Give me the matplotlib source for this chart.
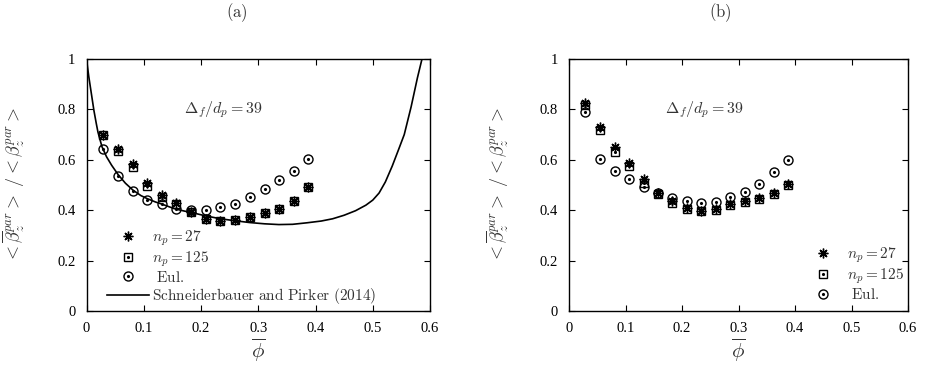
import matplotlib
matplotlib.use("Agg")
import matplotlib.pyplot as plt
from matplotlib.legend_handler import HandlerTuple
from matplotlib.ticker import FuncFormatter

plt.rcParams['mathtext.fontset'] = 'cm'
plt.rcParams['font.family'] = ['Liberation Serif', 'DejaVu Serif']

# ---------------- data ----------------
phi = [0.029, 0.055, 0.081, 0.106, 0.132, 0.157, 0.183, 0.209, 0.234, 0.260,
       0.285, 0.311, 0.336, 0.362, 0.387]

a_np27 = [0.699, 0.644, 0.584, 0.509, 0.461, 0.428, 0.391, 0.366, 0.359, 0.363,
          0.375, 0.388, 0.405, 0.438, 0.491]
a_np125 = [0.697, 0.633, 0.571, 0.498, 0.454, 0.425, 0.391, 0.366, 0.359, 0.363,
           0.375, 0.388, 0.405, 0.438, 0.491]
a_eul = [0.644, 0.534, 0.478, 0.442, 0.424, 0.405, 0.401, 0.401, 0.412, 0.425,
         0.453, 0.486, 0.521, 0.555, 0.605]

b_np27 = [0.825, 0.732, 0.649, 0.587, 0.523, 0.470, 0.435, 0.410, 0.398, 0.404,
          0.424, 0.436, 0.447, 0.468, 0.502]
b_np125 = [0.819, 0.717, 0.630, 0.574, 0.507, 0.464, 0.430, 0.405, 0.395, 0.400,
           0.421, 0.433, 0.444, 0.466, 0.500]
b_eul = [0.788, 0.603, 0.554, 0.525, 0.494, 0.468, 0.450, 0.437, 0.428, 0.434,
         0.454, 0.471, 0.503, 0.551, 0.599]

# Schneiderbauer and Pirker (2014) curve
sp_phi = [0.0, 0.002, 0.004, 0.007, 0.010, 0.013, 0.017, 0.020, 0.027, 0.035,
          0.044, 0.055, 0.068, 0.081, 0.095, 0.106, 0.120, 0.132, 0.145, 0.157,
          0.170, 0.183, 0.209, 0.234, 0.260, 0.285, 0.311, 0.336, 0.360, 0.385,
          0.410, 0.430, 0.450, 0.470, 0.488, 0.500, 0.511, 0.522, 0.534, 0.545,
          0.555, 0.567, 0.578, 0.586]
sp_val = [1.0, 0.965, 0.93, 0.885, 0.84, 0.795, 0.745, 0.71, 0.652, 0.612,
          0.578, 0.542, 0.507, 0.480, 0.458, 0.446, 0.433, 0.424, 0.413, 0.404,
          0.397, 0.391, 0.377, 0.366, 0.358, 0.351, 0.346, 0.343, 0.344, 0.350,
          0.357, 0.366, 0.380, 0.398, 0.420, 0.440, 0.468, 0.512, 0.575, 0.64,
          0.70, 0.81, 0.925, 1.0]

xticks = [0, 0.1, 0.2, 0.3, 0.4, 0.5, 0.6]
yticks = [0, 0.2, 0.4, 0.6, 0.8, 1.0]
annot = r'$\Delta_f/d_p = 39$'
ylabel = r'$<\overline{\beta}_z^{par}>\ /<\beta_z^{par}>$'
xlabel = r'$\overline{\phi}$'
lab27 = r'$n_p = 27$'
lab125 = r'$n_p = 125$'
labeul = r'$\ \mathrm{Eul.}$'
labsp = r'$\mathrm{Schneiderbauer\ and\ Pirker\ (2014)}$'

TXT = '#333333'

fig = plt.figure(figsize=(9.27, 3.69), dpi=100)
axA = fig.add_axes([86.5 / 927, 58 / 369, 343.5 / 927, 252 / 369])
axB = fig.add_axes([569 / 927, 58 / 369, 339 / 927, 252 / 369])


def draw(ax, s27, s125, seul):
    h27, = ax.plot(phi, s27, ls='none', marker=(8, 2, 0), ms=7, mew=1.0,
                   color='black')
    h125, = ax.plot(phi, s125, ls='none', marker='s', ms=6, mew=1.0,
                    mfc='none', mec='black')
    h125d, = ax.plot(phi, s125, ls='none', marker='.', ms=2.5, color='black')
    heul, = ax.plot(phi, seul, ls='none', marker='o', ms=6.5, mew=1.0,
                    mfc='none', mec='black')
    heuld, = ax.plot(phi, seul, ls='none', marker='.', ms=2.5, color='black')
    return h27, (h125, h125d), (heul, heuld)


def style(ax):
    ax.set_xlim(0, 0.6)
    ax.set_ylim(0, 1)
    ax.set_xticks(xticks)
    ax.set_yticks(yticks)
    ax.xaxis.set_major_formatter(FuncFormatter(lambda v, p: '%g' % round(v, 3)))
    ax.yaxis.set_major_formatter(FuncFormatter(lambda v, p: '%g' % round(v, 3)))
    ax.tick_params(direction='in', top=True, right=True, length=4.5, width=0.8,
                   labelsize=10.5, pad=8, colors='black')
    for sp in ax.spines.values():
        sp.set_linewidth(1.0)
    ax.set_ylabel(ylabel, fontsize=13, color=TXT)
    ax.yaxis.set_label_coords(-0.211, 0.5)
    ax.yaxis.label.set_va('center')
    ax.set_xlabel(xlabel, fontsize=15, color=TXT)
    ax.xaxis.set_label_coords(0.5, -0.155)
    ax.xaxis.label.set_va('center')
    ax.text(0.239, 0.80, annot, fontsize=11.5, color=TXT, ha='center',
            va='center')


leg_kw = dict(handler_map={tuple: HandlerTuple(ndivide=1)},
              loc='lower left', borderaxespad=0, borderpad=0, frameon=False,
              fontsize=11, handlelength=2.72, handletextpad=0.22,
              labelspacing=0.08, labelcolor=TXT)

# panel (a)
hA = draw(axA, a_np27, a_np125, a_eul)
hsp, = axA.plot(sp_phi, sp_val, color='black', lw=1.2)
style(axA)
axA.legend([hA[0], hA[1], hA[2], hsp], [lab27, lab125, labeul, labsp],
           bbox_to_anchor=(0.06, 0.02), **leg_kw)

# panel (b)
hB = draw(axB, b_np27, b_np125, b_eul)
style(axB)
axB.legend([hB[0], hB[1], hB[2]], [lab27, lab125, labeul],
           bbox_to_anchor=(0.689, 0.035), **leg_kw)

fig.text(237 / 927, 1 - 13 / 369, r'$\mathrm{(a)}$', fontsize=12, color=TXT,
         ha='center', va='center')
fig.text(720 / 927, 1 - 13 / 369, r'$\mathrm{(b)}$', fontsize=12, color=TXT,
         ha='center', va='center')

fig.savefig('out.png', dpi=100)
